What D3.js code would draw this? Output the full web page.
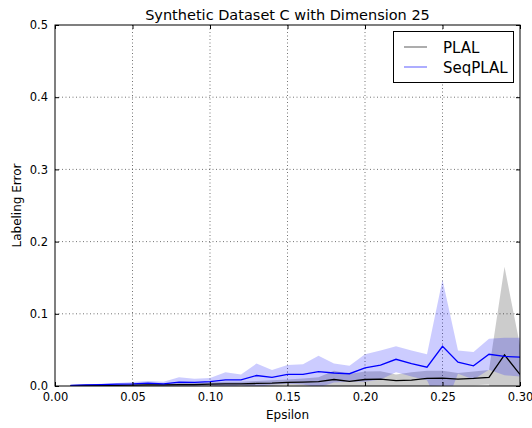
<!DOCTYPE html>
<html>
<head>
<meta charset="utf-8">
<script src="https://cdn.jsdelivr.net/npm/d3@7"></script>
<style>
  body { margin: 0; background: #fff; }
  svg { display: block; font-family: "DejaVu Sans", sans-serif; }
</style>
</head>
<body>
<svg id="chart" width="532" height="428"></svg>
<script>
const epsilon = [0.01,0.02,0.03,0.04,0.05,0.06,0.07,0.08,0.09,0.10,
                 0.11,0.12,0.13,0.14,0.15,0.16,0.17,0.18,0.19,0.20,
                 0.21,0.22,0.23,0.24,0.25,0.26,0.27,0.28,0.29,0.30];
const plalMean = [0.0005,0.0007,0.001,0.001,0.0012,0.0015,0.0015,0.002,0.002,0.0025,
                  0.003,0.003,0.0035,0.004,0.005,0.0055,0.006,0.009,0.0065,0.009,
                  0.0095,0.0075,0.008,0.0105,0.011,0.0095,0.0105,0.012,0.043,0.016];
const plalStd  = [0.0005,0.0008,0.001,0.001,0.0012,0.0015,0.0015,0.002,0.002,0.0025,
                  0.003,0.003,0.0035,0.004,0.004,0.005,0.006,0.012,0.010,0.011,
                  0.011,0.0085,0.011,0.0105,0.010,0.0085,0.0095,0.010,0.122,0.040];
const seqMean  = [0.001,0.0015,0.002,0.0025,0.003,0.004,0.003,0.0055,0.005,0.006,
                  0.0085,0.0085,0.0145,0.012,0.016,0.016,0.020,0.018,0.017,0.025,
                  0.029,0.037,0.031,0.026,0.055,0.033,0.028,0.044,0.041,0.040];
const seqStd   = [0.0005,0.0005,0.001,0.0015,0.0025,0.003,0.003,0.0065,0.005,0.005,
                  0.0105,0.0075,0.0165,0.010,0.013,0.014,0.022,0.013,0.011,0.019,
                  0.020,0.018,0.018,0.018,0.092,0.016,0.019,0.0215,0.026,0.027];
const xTicks = [0.00,0.05,0.10,0.15,0.20,0.25,0.30];
const yTicks = [0.0,0.1,0.2,0.3,0.4,0.5];
const seriesNames = ["PLAL","SeqPLAL"];

const svg = d3.select("#chart");
const L = 55, R = 520, T = 25, B = 386;
const x = d3.scaleLinear().domain([0, 0.30]).range([L, R]);
const y = d3.scaleLinear().domain([0, 0.5]).range([B, T]);

svg.append("defs").append("clipPath").attr("id","clip")
  .append("rect").attr("x",L).attr("y",T).attr("width",R-L).attr("height",B-T);

// grid
const grid = svg.append("g");
xTicks.slice(1,-1).forEach(t => grid.append("line")
  .attr("x1",x(t)).attr("x2",x(t)).attr("y1",T).attr("y2",B)
  .attr("stroke","#000").attr("stroke-opacity",0.55).attr("stroke-width",1)
  .attr("stroke-dasharray","1,2.5"));
yTicks.slice(1,-1).forEach(t => grid.append("line")
  .attr("y1",y(t)).attr("y2",y(t)).attr("x1",L).attr("x2",R)
  .attr("stroke","#000").attr("stroke-opacity",0.55).attr("stroke-width",1)
  .attr("stroke-dasharray","1,2.5"));

function rows(mean, std) { return epsilon.map((e,i)=>({e, m:mean[i], s:std[i]})); }
const plal = rows(plalMean, plalStd), seq = rows(seqMean, seqStd);
const area = d3.area().x(d=>x(d.e)).y0(d=>y(d.m-d.s)).y1(d=>y(d.m+d.s));
const line = d3.line().x(d=>x(d.e)).y(d=>y(d.m));

const plot = svg.append("g").attr("clip-path","url(#clip)");
plot.append("path").datum(plal).attr("d",area).attr("fill","#000").attr("fill-opacity",0.2);
plot.append("path").datum(seq).attr("d",area).attr("fill","#0000ff").attr("fill-opacity",0.2);
plot.append("path").datum(plal).attr("d",line).attr("fill","none").attr("stroke","#000").attr("stroke-width",1.3);
plot.append("path").datum(seq).attr("d",line).attr("fill","none").attr("stroke","#0000ff").attr("stroke-width",1.3);

// axes (ticks inside, all four sides)
const tl = 4;
const axB = svg.append("g").attr("transform",`translate(0,${B})`)
  .call(d3.axisBottom(x).tickValues(xTicks).tickFormat(d3.format(".2f")).tickSizeInner(-tl).tickSizeOuter(0).tickPadding(7));
const axT = svg.append("g").attr("transform",`translate(0,${T})`)
  .call(d3.axisTop(x).tickValues(xTicks).tickFormat("").tickSizeInner(-tl).tickSizeOuter(0));
const axL = svg.append("g").attr("transform",`translate(${L},0)`)
  .call(d3.axisLeft(y).tickValues(yTicks).tickFormat(d3.format(".1f")).tickSizeInner(-tl).tickSizeOuter(0).tickPadding(7));
const axR = svg.append("g").attr("transform",`translate(${R},0)`)
  .call(d3.axisRight(y).tickValues(yTicks).tickFormat("").tickSizeInner(-tl).tickSizeOuter(0));
[axB,axT,axL,axR].forEach(a => {
  a.select(".domain").remove();
  a.selectAll("line").attr("stroke","#000");
  a.selectAll("text").attr("font-family","DejaVu Sans").attr("font-size",11.5).attr("fill","#000");
});
svg.append("rect").attr("x",L).attr("y",T).attr("width",R-L).attr("height",B-T)
  .attr("fill","none").attr("stroke","#000").attr("stroke-width",1);

// labels
svg.append("text").attr("x",(L+R)/2).attr("y",20).attr("text-anchor","middle")
  .attr("font-size",14.5).text("Synthetic Dataset C with Dimension 25");
svg.append("text").attr("x",(L+R)/2).attr("y",419).attr("text-anchor","middle")
  .attr("font-size",12).text("Epsilon");
svg.append("text").attr("transform",`translate(21,${(T+B)/2}) rotate(-90)`).attr("text-anchor","middle")
  .attr("font-size",12).text("Labeling Error");

// legend
const lg = svg.append("g");
lg.append("rect").attr("x",393.5).attr("y",31.5).attr("width",120).attr("height",51)
  .attr("fill","#fff").attr("stroke","#000").attr("stroke-width",1);
const legColors = ["#808080","#8080ff"];
seriesNames.forEach((n,i) => {
  const yy = 47 + i*20;
  lg.append("line").attr("x1",404).attr("x2",427).attr("y1",yy).attr("y2",yy)
    .attr("stroke",legColors[i]).attr("stroke-width",1.3);
  lg.append("text").attr("x",443).attr("y",yy+5.5).attr("font-size",15).text(n);
});
</script>
</body>
</html>
